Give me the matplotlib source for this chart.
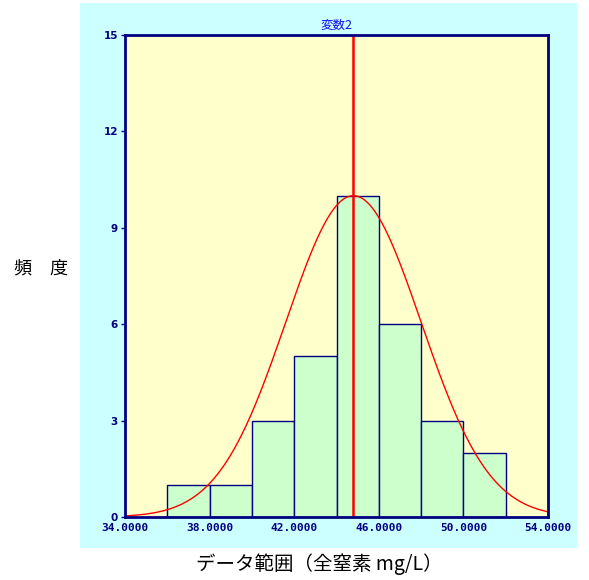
# histogram with normal curve - 全窒素

import numpy as np
import matplotlib
matplotlib.use('Agg')
import matplotlib.pyplot as plt
from matplotlib.patches import Rectangle

# data
bin_lefts = [36, 38, 40, 42, 44, 46, 48, 50]
counts = [1, 1, 3, 5, 10, 6, 3, 2]
bin_width = 2
mean_val = 44.8
sd_val = 3.2
x_ticks = [34, 38, 42, 46, 50, 54]
y_ticks = [0, 3, 6, 9, 12, 15]

NAVY = '#000080'
JP = ['Noto Sans CJK JP', 'DejaVu Sans']

fig = plt.figure(figsize=(5.89, 5.80), dpi=100)
fig.patches.append(Rectangle((80/589, 1-548/580), 497/589, 545/580,
                             transform=fig.transFigure, facecolor='#CCFFFF',
                             edgecolor='none', zorder=-5))

ax = fig.add_axes([125/589, 1-517/580, 423/589, 482/580])
ax.set_zorder(2)
ax.set_facecolor('#FFFFCC')

ax.bar(bin_lefts, counts, width=bin_width, align='edge',
       facecolor='#CCFFCC', edgecolor=NAVY, linewidth=1.0, zorder=2)

xs = np.linspace(34, 54, 400)
curve = max(counts) * np.exp(-0.5 * ((xs - mean_val) / sd_val) ** 2)
ax.plot(xs, curve, color='#FF0000', linewidth=1.0, zorder=3)
ax.axvline(mean_val, color='#FF0000', linewidth=1.8, zorder=4)

ax.set_xlim(34, 54)
ax.set_ylim(0, 15)
ax.set_xticks(x_ticks)
ax.set_xticklabels([f'{v:.4f}' for v in x_ticks], family='DejaVu Sans Mono',
                   fontweight='bold', fontsize=8, color=NAVY)
ax.set_yticks(y_ticks)
ax.set_yticklabels([str(v) for v in y_ticks], family='DejaVu Sans',
                   fontweight='bold', fontsize=7.5, color=NAVY)
ax.tick_params(axis='x', length=0, pad=4)
ax.tick_params(axis='y', length=3, width=1, color=NAVY, pad=2)
ax.set_xticks([36, 40, 44, 48, 52], minor=True)
ax.tick_params(axis='x', which='minor', direction='in', length=4,
               color='#999999', width=1)

for s in ax.spines.values():
    s.set_color(NAVY)
    s.set_linewidth(2)
    s.set_zorder(5)

ax.set_title('変数2', family=JP, fontsize=9, color='#1010EE', pad=4)

fig.text(41/589, 1-268/580, '頻　度', family=JP, fontsize=13,
         ha='center', va='center', color='black')
fig.text(319/589, 1-564/580, 'データ範囲（全窒素 mg/L）', family=JP, fontsize=14,
         ha='center', va='center', color='black')

fig.savefig('out.png', dpi=100)
